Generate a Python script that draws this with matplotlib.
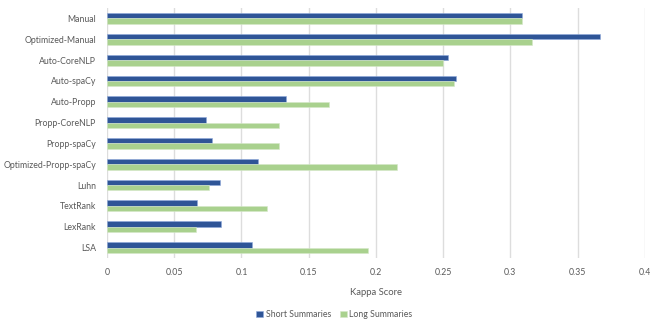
import numpy as np
import matplotlib.pyplot as plt

# Data
methods = ['Manual', 'Optimized-Manual', 'Auto-CoreNLP', 'Auto-spaCy', 'Auto-Propp',
           'Propp-CoreNLP', 'Propp-spaCy', 'Optimized-Propp-spaCy', 'Luhn',
           'TextRank', 'LexRank', 'LSA']
short_scores = [0.309, 0.3665, 0.254, 0.2595, 0.1335, 0.0735, 0.078, 0.1125,
                0.084, 0.067, 0.085, 0.108]
long_scores = [0.309, 0.316, 0.250, 0.258, 0.165, 0.128, 0.128, 0.2157,
               0.0755, 0.119, 0.0665, 0.1943]
x_ticks = [0, 0.05, 0.1, 0.15, 0.2, 0.25, 0.3, 0.35, 0.4]
x_tick_labels = ['0', '0.05', '0.1', '0.15', '0.2', '0.25', '0.3', '0.35', '0.4']

plt.rcParams['font.family'] = ['Lato', 'DejaVu Sans']
text_col = '#595959'

fig = plt.figure(figsize=(6.5, 3.22), dpi=100)
ax = fig.add_axes([0.1646, 0.199, 0.8274, 0.776])

y = np.arange(len(methods))
h = 0.26
ax.barh(y - h / 2, short_scores, height=h, color='#2F5597',
        edgecolor='#8FAADC', linewidth=0.4, label='Short Summaries', zorder=3)
ax.barh(y + h / 2, long_scores, height=h, color='#A9D18E',
        edgecolor='#D5E8C8', linewidth=0.4, label='Long Summaries', zorder=3)

ax.set_ylim(len(methods) - 0.5, -0.5)
ax.set_xlim(0, 0.4)
ax.set_yticks(y)
ax.set_yticklabels(methods, fontsize=6.3, color=text_col)
ax.set_xticks(x_ticks)
ax.set_xticklabels(x_tick_labels, fontsize=6.3, color=text_col)
ax.tick_params(length=0, pad=7)
ax.tick_params(axis='y', pad=8)
ax.grid(axis='x', color='#DDDDDD', linewidth=1.0, zorder=0)
for s in ax.spines.values():
    s.set_visible(False)

ax.set_xlabel('Kappa Score', fontsize=6.8, color=text_col, labelpad=8)

fig.legend(loc='lower center', bbox_to_anchor=(0.514, -0.015), ncol=2, frameon=False,
           fontsize=6.3, handlelength=0.8, handleheight=0.8, handletextpad=0.3,
           columnspacing=1.0, labelcolor=text_col)

fig.savefig('out.png', dpi=100)
